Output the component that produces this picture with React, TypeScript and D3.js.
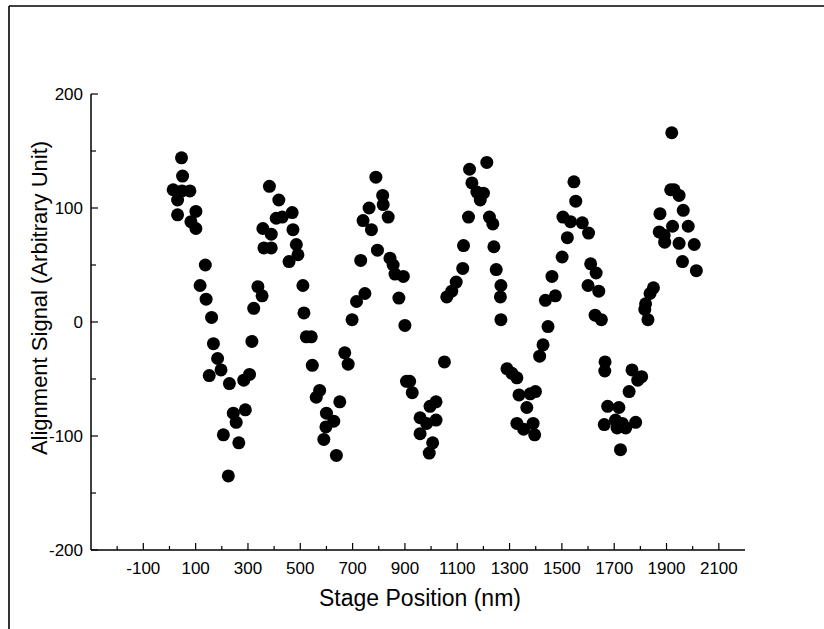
import React from 'react'
import * as d3 from 'd3'

// [stage position (nm), alignment signal], one array per fringe
const fringe1 = [
  [14, 116], [31, 107], [31, 94], [46, 144], [50, 128], [48, 115], [78, 115], [82, 88],
  [101, 97], [101, 82], [117, 32], [137, 50], [140, 20], [161, 4], [168, -19], [184, -32],
  [197, -42], [152, -47], [206, -99], [229, -54], [225, -135], [244, -80], [255, -88],
  [265, -106], [284, -51], [290, -77], [306, -46], [315, -17], [322, 12], [338, 31], [354, 23],
]
const fringe2 = [
  [357, 82], [361, 65], [382, 119], [389, 77], [389, 65], [408, 91], [418, 107], [431, 92],
  [457, 53], [469, 96], [472, 81], [485, 68], [491, 59], [510, 32], [514, 8], [523, -13],
  [542, -13], [546, -38], [561, -66], [574, -60], [590, -103], [598, -92], [600, -80],
  [628, -87], [638, -117], [651, -70], [670, -27], [683, -37], [698, 2], [715, 18], [731, 54],
  [740, 89], [747, 25], [763, 100], [772, 81], [789, 127], [795, 63], [815, 111], [817, 103],
  [836, 92], [843, 56], [855, 50], [862, 42], [877, 21], [894, 40], [900, -3],
]
const fringe3 = [
  [906, -52], [918, -52], [928, -62], [958, -84], [958, -98], [983, -89], [993, -115],
  [996, -74], [1006, -106], [1019, -70], [1019, -86], [1051, -35], [1060, 22], [1079, 27],
  [1096, 35], [1121, 47], [1124, 67], [1143, 92], [1147, 134], [1156, 122], [1175, 114],
  [1188, 107], [1200, 113], [1213, 140], [1223, 92], [1236, 86], [1240, 66], [1249, 46],
  [1267, 32], [1265, 22], [1267, 2],
]
const fringe4 = [
  [1290, -41], [1309, -45], [1328, -49], [1328, -89], [1336, -64], [1354, -94], [1366, -75],
  [1379, -63], [1390, -89], [1396, -99], [1399, -61], [1415, -30], [1428, -20], [1437, 19],
  [1447, -4], [1462, 40], [1475, 23], [1501, 57], [1504, 92], [1521, 74], [1533, 88],
  [1546, 123], [1553, 106], [1578, 87], [1602, 78], [1600, 32], [1610, 51], [1631, 43],
  [1641, 27], [1627, 6], [1651, 2],
]
const fringe5 = [
  [1665, -35], [1664, -43], [1662, -90], [1675, -74], [1705, -86], [1711, -93], [1718, -75],
  [1724, -112], [1731, -89], [1744, -93], [1757, -61], [1768, -42], [1782, -88], [1790, -51],
  [1805, -48], [1817, 11], [1820, 16], [1829, 2], [1837, 25], [1850, 30], [1872, 79],
  [1875, 95], [1891, 76], [1893, 70], [1916, 116], [1920, 166], [1923, 84], [1929, 116],
  [1948, 111], [1948, 69], [1961, 53], [1964, 98], [1983, 84], [2006, 68], [2014, 45],
]

const xMajorTicks = [-100, 100, 300, 500, 700, 900, 1100, 1300, 1500, 1700, 1900, 2100]
const xMinorTicks = [-200, 0, 200, 400, 600, 800, 1000, 1200, 1400, 1600, 1800, 2000]
const yMajorTicks = [-200, -100, 0, 100, 200]
const yMinorTicks = [-150, -50, 50, 150]

const W = 824
const H = 629
const font = '"Liberation Sans", Arial, Helvetica, sans-serif'

const App = () => {
  const x = d3.scaleLinear().domain([-300, 2200]).range([91, 745])
  const y = d3.scaleLinear().domain([-200, 200]).range([550, 94])
  const points = [...fringe1, ...fringe2, ...fringe3, ...fringe4, ...fringe5]
  const x0 = x.range()[0]
  const y0 = y.range()[0]

  return (
    <svg
      width={W}
      height={H}
      style={{ position: 'absolute', left: 0, top: 0, background: '#fff' }}
      fontFamily={font}
    >
      {/* frame of the scanned figure */}
      <line x1={9} y1={6} x2={W} y2={6} stroke="#000" strokeWidth={1.6} />
      <line x1={9} y1={6} x2={9} y2={H} stroke="#000" strokeWidth={1.6} />

      {/* axes */}
      <line x1={x0} y1={y(200)} x2={x0} y2={y0} stroke="#000" strokeWidth={1.5} />
      <line x1={x0} y1={y0} x2={x.range()[1]} y2={y0} stroke="#000" strokeWidth={1.5} />

      {xMajorTicks.map((t) => (
        <g key={'xM' + t}>
          <line x1={x(t)} x2={x(t)} y1={y0} y2={y0 - 7} stroke="#000" strokeWidth={1.2} />
          <text x={x(t)} y={574} textAnchor="middle" fontSize={17}>
            {t}
          </text>
        </g>
      ))}
      {xMinorTicks.map((t) => (
        <line key={'xm' + t} x1={x(t)} x2={x(t)} y1={y0} y2={y0 - 4} stroke="#000" strokeWidth={1.2} />
      ))}

      {yMajorTicks.map((t) => (
        <g key={'yM' + t}>
          <line x1={x0} x2={x0 + 7} y1={y(t)} y2={y(t)} stroke="#000" strokeWidth={1.2} />
          <text x={83} y={y(t)} dy="0.36em" textAnchor="end" fontSize={17}>
            {t}
          </text>
        </g>
      ))}
      {yMinorTicks.map((t) => (
        <line key={'ym' + t} x1={x0} x2={x0 + 5} y1={y(t)} y2={y(t)} stroke="#000" strokeWidth={1.2} />
      ))}

      {/* data */}
      {points.map(([px, py], i) => (
        <circle key={i} cx={x(px)} cy={y(py)} r={6.5} fill="#000" />
      ))}

      {/* axis titles */}
      <text x={420} y={606} textAnchor="middle" fontSize={23}>
        Stage Position (nm)
      </text>
      <text transform="translate(47,298) rotate(-90)" textAnchor="middle" fontSize={22}>
        Alignment Signal (Arbitrary Unit)
      </text>
    </svg>
  )
}

export default App
